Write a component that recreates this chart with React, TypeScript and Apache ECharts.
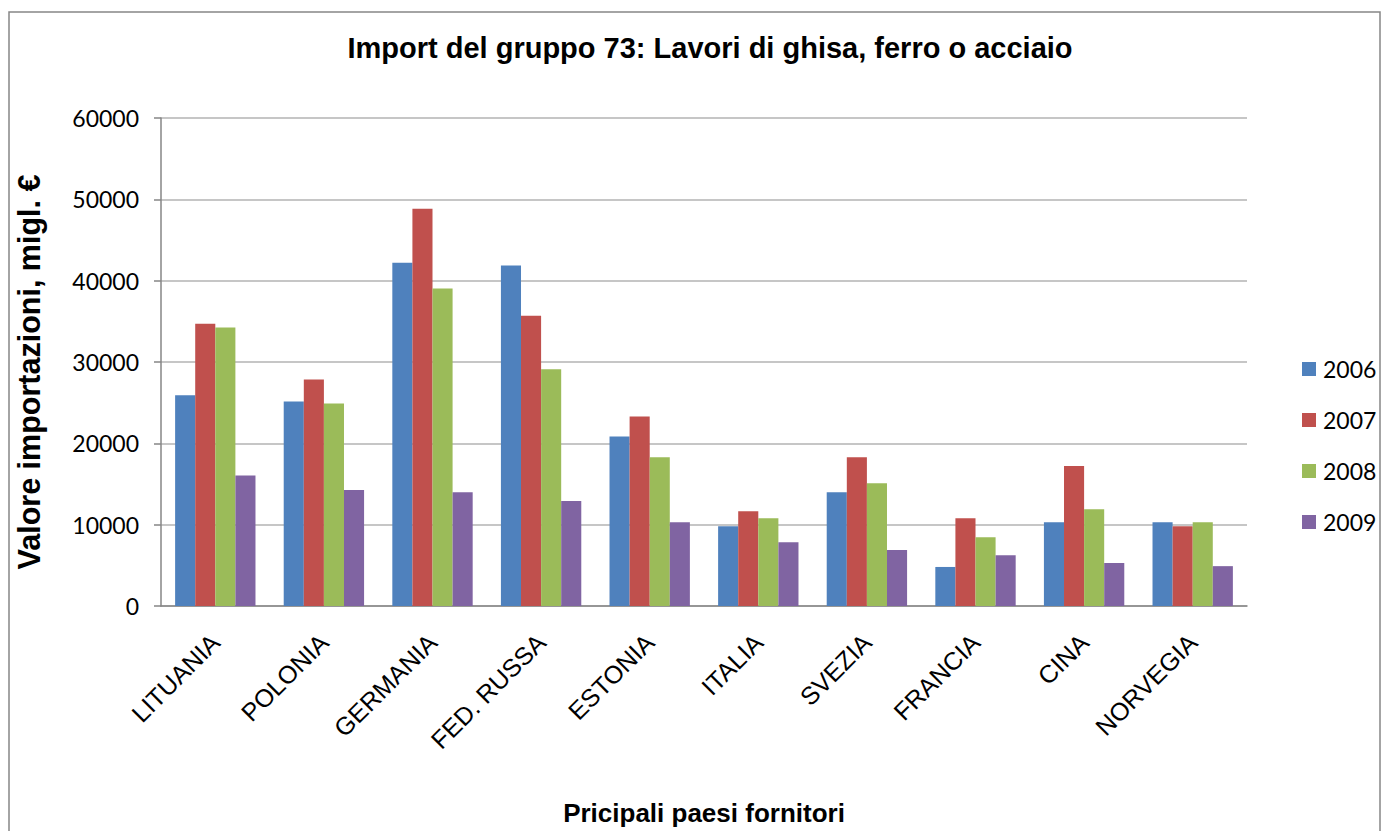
import React, { useEffect, useRef } from "react";
import * as echarts from "echarts";

const categories = ["LITUANIA", "POLONIA", "GERMANIA", "FED. RUSSA", "ESTONIA", "ITALIA", "SVEZIA", "FRANCIA", "CINA", "NORVEGIA"];
const years = ["2006", "2007", "2008", "2009"];
const v2006 = [25900, 25150, 42200, 41850, 20850, 9800, 14000, 4800, 10300, 10300];
const v2007 = [34700, 27850, 48850, 35700, 23300, 11650, 18300, 10800, 17200, 9800];
const v2008 = [34250, 24900, 39050, 29100, 18300, 10800, 15100, 8450, 11900, 10300];
const v2009 = [16050, 14250, 14000, 12900, 10300, 7850, 6900, 6250, 5300, 4900];
const colors = ["#4F81BD", "#C0504D", "#9BBB59", "#8064A2"];
const yTicks = { min: 0, max: 60000, interval: 10000 };

const title = "Import del gruppo 73: Lavori di ghisa, ferro o acciaio";
const yTitle = "Valore importazioni, migl. €";
const xTitle = "Pricipali paesi fornitori";

export default function App() {
  const ref = useRef<HTMLDivElement>(null);
  useEffect(() => {
    if (!ref.current) return;
    const chart = echarts.init(ref.current, null, { renderer: "svg" });
    const seriesData = [v2006, v2007, v2008, v2009];
    chart.setOption({
      animation: false,
      backgroundColor: "#ffffff",
      color: colors,
      title: {
        text: title,
        left: 705,
        top: 28,
        textAlign: "center",
        textStyle: { fontFamily: "Liberation Sans", fontWeight: "bold", fontSize: 29, color: "#000" },
      },
      legend: {
        orient: "vertical",
        left: 1297,
        top: 352,
        icon: "rect",
        itemWidth: 14,
        itemHeight: 14,
        itemGap: 27,
        data: years,
        textStyle: { fontFamily: "Lato", fontSize: 23, color: "#000", lineHeight: 24, padding: [0, 0, 0, 2] },
      },
      grid: { left: 161, right: 141, top: 118, bottom: 224, containLabel: false },
      xAxis: {
        type: "category",
        data: categories,
        name: xTitle,
        nameLocation: "middle",
        nameGap: 194,
        nameTextStyle: { fontFamily: "Liberation Sans", fontWeight: "bold", fontSize: 26, color: "#000" },
        axisLine: { lineStyle: { color: "#868686", width: 1.5 } },
        axisTick: { show: false },
        axisLabel: {
          rotate: 45,
          margin: 32,
          fontFamily: "Liberation Sans",
          fontSize: 25,
          color: "#000",
        },
      },
      yAxis: {
        type: "value",
        min: yTicks.min,
        max: yTicks.max,
        interval: yTicks.interval,
        name: yTitle,
        nameLocation: "middle",
        nameGap: 117,
        nameRotate: 90,
        nameTextStyle: { fontFamily: "Liberation Sans", fontWeight: "bold", fontSize: 30.5, color: "#000", padding: [0, 20, 0, 0] },
        axisLine: { show: true, lineStyle: { color: "#868686", width: 1.5 } },
        axisTick: { show: true, length: 7, lineStyle: { color: "#868686", width: 1.5 } },
        axisLabel: { fontFamily: "Lato", fontSize: 23, color: "#000", margin: 22, formatter: (v: number) => String(v) },
        splitLine: { lineStyle: { color: "#B3B3B3", width: 1.5 } },
      },
      graphic: [
        {
          type: "rect",
          shape: { x: 9, y: 12, width: 1371, height: 840 },
          style: { fill: "none", stroke: "#868686", lineWidth: 1.5 },
          silent: true,
        },
      ],
      series: years.map((y, i) => ({
        name: y,
        type: "bar",
        data: seriesData[i],
        barGap: "0%",
        barCategoryGap: "26%",
        itemStyle: { color: colors[i] },
      })),
    });
    return () => chart.dispose();
  }, []);
  return <div ref={ref} style={{ position: "absolute", left: 0, top: 0, width: 1388, height: 831 }} />;
}
